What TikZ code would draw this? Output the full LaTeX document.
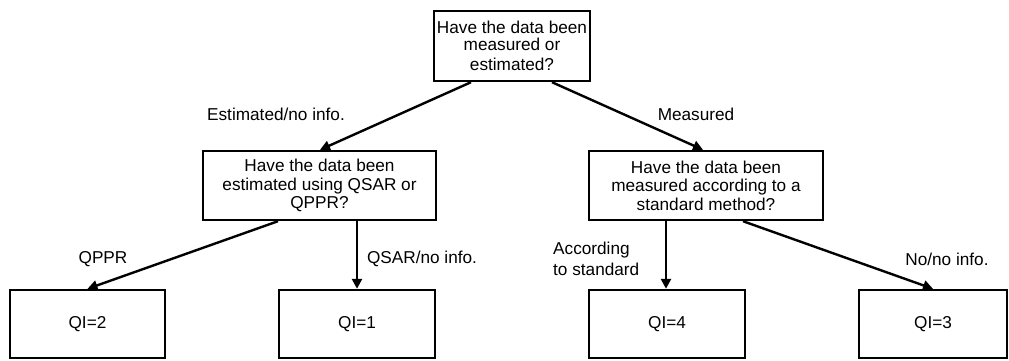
\documentclass[tikz,border=0pt]{standalone}
\usepackage{fontspec}
\setmainfont{Liberation Sans}
\usetikzlibrary{arrows.meta}
\begin{document}
\begin{tikzpicture}[x=1pt,y=-1pt,
  box/.style={draw=black,line width=2.4pt,rectangle,inner sep=0pt,align=center,
    font=\fontsize{17.2}{18.5}\selectfont},
  lbl/.style={inner sep=0pt,font=\fontsize{17.2}{21}\selectfont},
  conn/.style={line width=2.4pt,-{Triangle[width=10pt,length=10pt]}}]
\useasboundingbox (0,0) rectangle (1009,360);
\node[box,minimum width=156pt,minimum height=70pt] (top) at (512,46)
  {Have the data been\\[-2pt]measured or\\[2pt]estimated?};
\node[box,minimum width=233pt,minimum height=69pt] (midL) at (319.5,185.5)
  {Have the data been\\estimated using QSAR or\\QPPR?};
\node[box,minimum width=234pt,minimum height=69pt] (midR) at (706,185.5)
  {Have the data been\\measured according to a\\standard method?};
\node[box,minimum width=155pt,minimum height=68pt] (q2) at (87.5,324) {QI=2};
\node[box,minimum width=156pt,minimum height=68pt] (q1) at (357,324) {QI=1};
\node[box,minimum width=156pt,minimum height=68pt] (q4) at (667,324) {QI=4};
\node[box,minimum width=148pt,minimum height=68pt] (q3) at (933,324) {QI=3};

\draw[conn] ([xshift=-41pt]top.south) -- ([xshift=0.5pt]midL.north);
\draw[conn] ([xshift=40pt]top.south) -- ([xshift=-3pt]midR.north);
\draw[conn] ([xshift=-41.5pt]midL.south) -- (q2.north);
\draw[conn] ([xshift=37.5pt]midL.south) -- (q1.north);
\draw[conn] ([xshift=-40pt]midR.south) -- ([xshift=-1pt]q4.north);
\draw[conn] ([xshift=37pt]midR.south) -- (q3.north);

\node[lbl] (lEst) at (276,114) {Estimated/no info.};
\node[lbl] (lMeas) at (696,114) {Measured};
\node[lbl] (lQPPR) at (103,259) {QPPR};
\node[lbl] (lQSAR) at (422,259) {QSAR/no info.};
\node[lbl,anchor=west,align=left] (lAcc) at (553,258.5) {According\\to standard};
\node[lbl] (lNo) at (947,259) {No/no info.};
\end{tikzpicture}
\end{document}
